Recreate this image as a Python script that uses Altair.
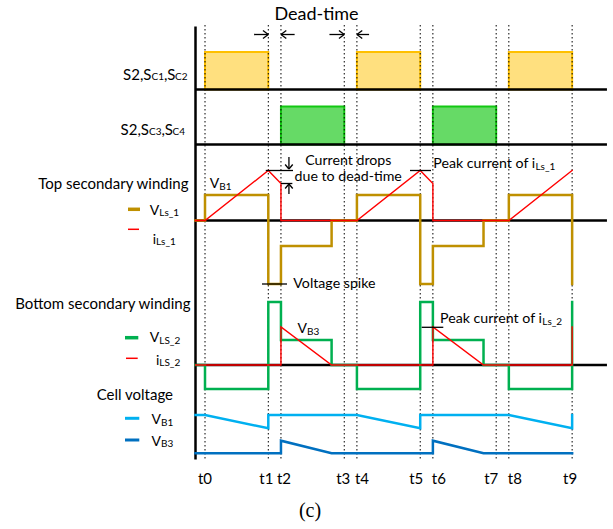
import altair as alt
import pandas as pd

W, H = 613, 529

# ---------------- data ----------------
T_NAMES = ["t0", "t1", "t2", "t3", "t4", "t5", "t6", "t7", "t8", "t9"]
T_VALUES = [0, 5, 6, 11, 12, 17, 18, 23, 24, 29]
T_LABEL_SHIFT = [0, -2, 3, -1, 5, -4, 6, -5, 6, -2]   # px nudges of the tick labels
T_AXIS = -0.75
T_RIGHT = 31.75

# gate signals: on-intervals
S1_ON = [(0, 5), (12, 17), (24, 29)]
S2_ON = [(6, 11), (18, 23)]

# rows (diagram units, measured downward from the top)
BASE_S1, BASE_S2 = 89.5, 144.5
BASE_TOP, BASE_BOT, BASE_CELL = 220.5, 365.0, 453.3
PULSE_H1, PULSE_H2 = 37.5, 38.0

# waveforms (time, level above the row baseline)
VLS1_T = [T_AXIS, 0, 0, 5, 5, 6, 6, 10, 10, 12, 12, 17, 17, 18, 18, 22, 22, 24, 24, 29, 29]
VLS1_V = [0, 0, 25.5, 25.5, -63.5, -63.5, -25.5, -25.5, 0, 0, 25.5, 25.5, -63.5, -63.5, -25.5, -25.5, 0, 0, 25.5, 25.5, -63.5]
ILS1_T = [T_AXIS, 0, 5, 6, 6, 12, 17, 18, 18, 24, 29]
ILS1_V = [0, 0, 50, 37, 0, 0, 50, 37, 0, 0, 50]
VLS2_T = [T_AXIS, 0, 0, 5, 5, 6, 6, 10, 10, 12, 12, 17, 17, 18, 18, 22, 22, 24, 24, 29, 29]
VLS2_V = [0, 0, -24, -24, 63, 63, 25, 25, 0, 0, -24, -24, 63, 63, 25, 25, 0, 0, -24, -24, 63]
ILS2_T = [T_AXIS, 6, 6, 10, 18, 18, 22, 29, 29]
ILS2_V = [0, 0, 38, 0, 0, 38, 0, 0, 38]
VB1_T = [T_AXIS, 0, 5, 5, 12, 17, 17, 24, 29, 29]
VB1_V = [38.3, 38.3, 25, 38.3, 38.3, 25, 38.3, 38.3, 25, 38.3]
VB3_T = [T_AXIS, 6, 6, 10, 18, 18, 22, 29]
VB3_V = [0, 0, 12.6, 0, 0, 12.6, 0, 0]

# ---------------- helpers ----------------
PX0, PXU = 205.0, 12.66


def tx(px):
    return (px - PX0) / PXU


XS = alt.Scale(domain=[tx(0), tx(W)], nice=False, zero=False)
YS = alt.Scale(domain=[0, H], reverse=True, nice=False, zero=False)


def X(f):
    return alt.X(f, type="quantitative", scale=XS, axis=None)


def Y(f):
    return alt.Y(f, type="quantitative", scale=YS, axis=None)


def path_df(ts, vs, base):
    return pd.DataFrame({"t": ts, "y": [base - v for v in vs], "i": range(len(ts)), "g": 0})


def path_layer(df, color, width):
    return alt.Chart(df).mark_line(color=color, strokeWidth=width, strokeJoin="miter",
                                   strokeCap="square").encode(
        x=X("t"), y=Y("y"), order=alt.Order("i:Q"), detail="g:N")


def seg_layer(segs, color, width, dash=None):
    rows = []
    for a, b, c, d in segs:
        rows.append({"t": a, "y": b, "t2": c, "y2": d})
    df = pd.DataFrame(rows)
    kw = dict(color=color, strokeWidth=width)
    if dash:
        kw["strokeDash"] = dash
    return alt.Chart(df).mark_rule(**kw).encode(
        x=X("t"), y=Y("y"), x2="t2:Q", y2="y2:Q")


def arrow_segs(t0, y0, t1, y1):
    segs = [(t0, y0, t1, y1)]
    if y0 == y1:
        d = 1 if t1 > t0 else -1
        segs += [(t1 - d * 0.42, y1 - 4, t1, y1), (t1 - d * 0.42, y1 + 4, t1, y1)]
    else:
        d = 1 if y1 > y0 else -1
        segs += [(t1 - 0.3, y1 - d * 4.5, t1, y1), (t1 + 0.3, y1 - d * 4.5, t1, y1)]
    return segs


def text_layer(items, align, font="Lato"):
    df = pd.DataFrame([{"text": s, "t": tx(px), "y": y, "size": sz} for s, px, y, sz in items])
    return alt.Chart(df).mark_text(align=align, baseline="middle", font=font, color="#000").encode(
        x=X("t"), y=Y("y"), text="text:N", size=alt.Size("size:Q", scale=None, legend=None))


layers = []

# gate pulses
for on, base, h, fill, stroke in [(S1_ON, BASE_S1, PULSE_H1, "#FFE07F", "#FFC000"),
                                  (S2_ON, BASE_S2, PULSE_H2, "#66DA66", "#12C812")]:
    df = pd.DataFrame({"t": [a for a, b in on], "t2": [b for a, b in on],
                       "y": base - h, "y2": base})
    layers.append(alt.Chart(df).mark_rect(fill=fill, stroke=stroke, strokeWidth=2).encode(
        x=X("t"), x2="t2:Q", y=Y("y"), y2="y2:Q"))

# dotted time markers
layers.append(seg_layer([(t, 25, t, 461) for t in T_VALUES], "#000", 1, [1.5, 2.5]))

# axis and baselines
layers.append(seg_layer([(T_AXIS, 26.5, T_AXIS, 459.5)], "#000", 2.5))
layers.append(seg_layer([(T_AXIS, b, T_RIGHT, b) for b in [BASE_S1, BASE_S2, BASE_TOP, BASE_BOT]],
                        "#000", 2.5))

# waveforms
GOLD, RED, GREEN, LBLUE, DBLUE = "#BF9000", "#FF0000", "#00B050", "#00B0F0", "#0070C0"
layers.append(path_layer(path_df(VLS1_T, VLS1_V, BASE_TOP), GOLD, 2.5))
layers.append(path_layer(path_df(ILS1_T, ILS1_V, BASE_TOP), RED, 1.4))
layers.append(path_layer(path_df(VLS2_T, VLS2_V, BASE_BOT), GREEN, 2.5))
layers.append(path_layer(path_df(ILS2_T, ILS2_V, BASE_BOT), RED, 1.4))
layers.append(path_layer(path_df(VB1_T, VB1_V, BASE_CELL), LBLUE, 2.5))
layers.append(path_layer(path_df(VB3_T, VB3_V, BASE_CELL), DBLUE, 2.5))

# legend dashes
for x0, x1, y, col, w in [(128, 140, 209.3, GOLD, 3.5), (128, 139, 229.3, RED, 1.5),
                          (125, 138.3, 337.7, GREEN, 3.5), (126, 137.7, 358.3, RED, 1.5),
                          (125, 139.3, 418.3, LBLUE, 3), (125, 139.3, 440, DBLUE, 3)]:
    layers.append(seg_layer([(tx(x0), y, tx(x1), y)], col, w))

# annotation marks
ann = [(4.8, 170.5, 6.95, 170.5), (6.0, 183.5, 6.9, 183.5),
       (tx(410), 170.5, tx(431), 170.5),
       (tx(262), 284, tx(287), 284),
       (tx(421.7), 327.3, tx(443.3), 327.3)]
ann += arrow_segs(6.63, 157, 6.63, 169)
ann += arrow_segs(6.63, 194, 6.63, 184)
for a, b in [(3.88, 5.0), (7.08, 6.0), (9.83, 11.0), (12.96, 12.0)]:
    ann += arrow_segs(a, 34.5, b, 34.5)
layers.append(seg_layer(ann, "#000", 1.3))

# texts
LBL, SUB, ANN = 15, 10, 14.2
RIGHT = [
    ("S2,S", 151.5, 74.5, LBL), ("C1", 164.0, 77, SUB), (",S", 175.5, 74.5, LBL), ("C2", 187.5, 77, SUB),
    ("S2,S", 149.0, 129.7, LBL), ("C3", 161.5, 132, SUB), (",S", 173.0, 129.7, LBL), ("C4", 185.0, 132, SUB),
    ("Top secondary winding", 188.5, 184, LBL),
    ("Bottom secondary winding", 190.5, 303.5, LBL),
    ("Cell voltage", 173, 395, LBL),
    ("V", 159.3, 210.5, 14), ("i", 156, 239.5, 14), ("V", 159.3, 338, 14), ("i", 159.3, 360.5, 14),
    ("V", 161, 420, 14), ("V", 161, 441.7, 14),
    ("V", 219.2, 184.3, 14), ("V", 307, 329.3, 14),
]
LEFT = [
    ("Ls_1", 159.3, 213, SUB), ("Ls_1", 156, 242, SUB), ("LS_2", 159.3, 340.5, SUB),
    ("LS_2", 159.3, 363, SUB), ("B1", 161, 422.5, SUB), ("B3", 161, 444, SUB),
    ("B1", 219.2, 186.5, SUB), ("B3", 307, 331.5, SUB),
    ("Peak current of i", 433.3, 164, ANN), ("Ls_1", 535.5, 166.5, SUB),
    ("Peak current of i", 440, 319, ANN), ("Ls_2", 542.3, 321.5, SUB),
    ("Voltage spike", 293.3, 284, ANN),
]
CENTER = [
    ("Dead-time", 316.5, 15, 18),
    ("Current drops", 348.3, 160.7, ANN),
    ("due to dead-time", 348.2, 177.3, ANN),
]
CENTER += [(n, PX0 + PXU * t + dx, 479, 15) for n, t, dx in zip(T_NAMES, T_VALUES, T_LABEL_SHIFT)]

layers.append(text_layer(RIGHT, "right"))
layers.append(text_layer(LEFT, "left"))
layers.append(text_layer(CENTER, "center"))
layers.append(text_layer([("(c)", 310, 511, 20)], "center", font="Liberation Serif"))

chart = alt.layer(*layers).properties(
    width=W, height=H, autosize=alt.AutoSizeParams(type="none"), padding=0
).configure_view(stroke=None)

chart.save("out.html", embed_options={"renderer": "svg", "actions": False})
